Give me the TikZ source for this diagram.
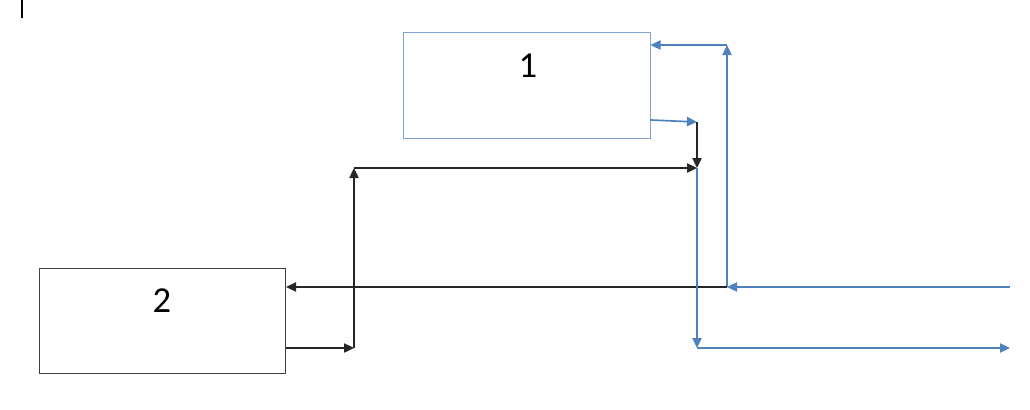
\documentclass[tikz,border=0pt]{standalone}
\usepackage{fontspec}
\setmainfont{Carlito}
\usetikzlibrary{arrows.meta,positioning}
\definecolor{wordBlue}{HTML}{4F81BD}
\definecolor{boxBlue}{HTML}{7EA3D3}
\definecolor{boxGray}{HTML}{404040}

\begin{document}
\begin{tikzpicture}[x=0.025cm, y=-0.025cm,
  blk/.style={-{Triangle[length=2.5mm,width=2.3mm]}, line width=1.2pt, color=black!85},
  blu/.style={-{Triangle[length=2.5mm,width=2.3mm]}, line width=1.2pt, color=wordBlue},
  box/.style={minimum width=6.15cm, minimum height=2.63cm, inner sep=0pt, line width=0.7pt},
  num/.style={font=\fontsize{26}{30}\selectfont, inner sep=0pt}
]
  \useasboundingbox (0,0) rectangle (1030,409);
  % text cursor
  \draw[line width=1.1pt] (22,0) -- (22,18);

  \node[box, draw=boxBlue] (box1) at (527,85.5) {};
  \node[box, draw=boxGray] (box2) at (162.5,321) {};
  \node[num] (lbl1) at (528,66) {1};
  \node[num] (lbl2) at (162,301) {2};

  \coordinate (top) at (727,45);
  \coordinate (join) at (727,287);
  \coordinate (in) at (1010,287);
  \coordinate (tap) at (697,122);
  \coordinate (meet) at (697,168);
  \coordinate (down) at (697,348);
  \coordinate (out) at (1010,348);
  \coordinate (up) at (354,348);
  \coordinate (rise) at (354,168);

  % feedback to box 1
  \draw[blu] (join) -- (top);
  \draw[blu] (top) -- (top -| box1.east);
  \draw[blu] (in) -- (join);
  \draw[blk] (join) -- (join -| box2.east);
  % box 1 output
  \draw[blu] (box1.east |- 0,120) -- (tap);
  \draw[blk] (tap) -- (meet);
  % box 2 output
  \draw[blk] (up -| box2.east) -- (up);
  \draw[blk] (up) -- (rise);
  \draw[blk] (rise) -- (meet);
  \draw[blu] (meet) -- (down);
  \draw[blu] (down) -- (out);
\end{tikzpicture}
\end{document}
